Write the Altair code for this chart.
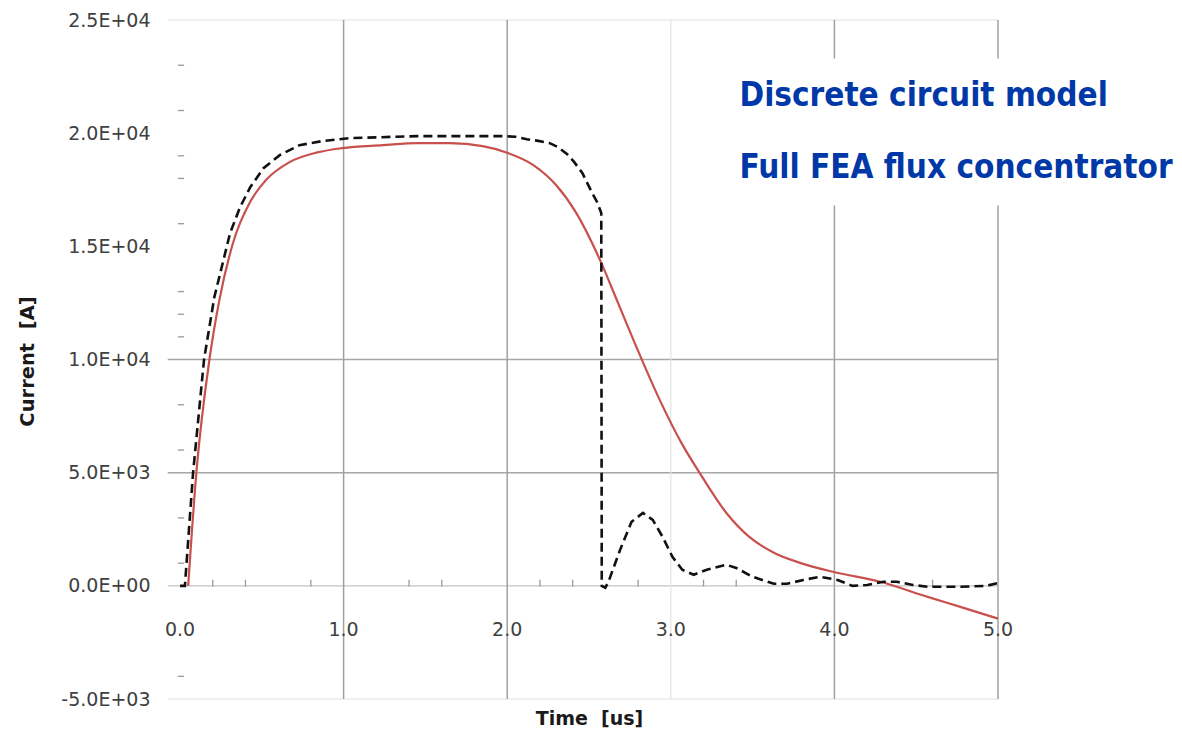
import altair as alt
import pandas as pd

# ---- data ----
dcm_t = [0.0, 0.03, 0.08, 0.147, 0.21, 0.306, 0.367, 0.43, 0.51, 0.61, 0.73, 0.87, 1.04, 1.45,
         1.98, 2.05, 2.12, 2.19, 2.26, 2.31, 2.365, 2.41, 2.46, 2.52, 2.55, 2.575, 2.578, 2.60, 2.62,
         2.69, 2.76, 2.83, 2.89, 2.95, 3.01, 3.07, 3.14, 3.22, 3.34, 3.40, 3.50, 3.63, 3.71,
         3.81, 3.91, 4.02, 4.11, 4.20, 4.30, 4.38, 4.48, 4.57, 4.77, 4.93, 5.0]
dcm_i = [0, 0, 5000, 10000, 12760, 15580, 16730, 17620, 18450, 19030, 19470, 19650, 19780, 19870,
         19870, 19840, 19730, 19660, 19560, 19380, 19080, 18720, 18230, 17350, 16950, 16470, 0, -80, 200,
         1590, 2830, 3220, 2910, 2160, 1280, 710, 490, 710, 930, 790, 400, 90, 90,
         260, 400, 260, 0, 40, 180, 180, 40, -40, -40, 0, 130]

fea_t = [0.05, 0.10, 0.18, 0.24, 0.324, 0.43, 0.53, 0.67, 0.84, 0.99, 1.24, 1.45, 1.65, 1.85,
         1.99, 2.16, 2.30, 2.42, 2.575, 2.67, 2.79, 2.93, 3.07, 3.18, 3.34, 3.48, 3.63, 3.79,
         3.99, 4.28, 4.57, 4.77, 5.0]
fea_i = [0, 5000, 10000, 12600, 15150, 16980, 17960, 18720, 19150, 19340, 19470, 19560, 19560, 19430,
         19160, 18590, 17700, 16500, 14270, 12630, 10550, 8250, 6250, 4950, 3220, 2160, 1460, 1015,
         620, 180, -490, -930, -1450]

x_ticks = [0, 1, 2, 3, 4, 5]
x_tick_labels = ["0.0", "1.0", "2.0", "3.0", "4.0", "5.0"]
y_ticks = [-5000, 0, 5000, 10000, 15000, 20000, 25000]
y_tick_labels = ["-5.0E+03", "0.0E+00", "5.0E+03", "1.0E+04", "1.5E+04", "2.0E+04", "2.5E+04"]

grid_x_dark = [1, 2, 4, 5]
grid_x_light = [3]
grid_y_dark = [5000, 10000]
grid_y_mid = [0]
grid_y_light = [-5000, 25000]
x_minor = [0.2, 0.4, 0.8, 1.4, 1.6, 2.2, 2.4, 2.8, 3.2, 3.4, 4.6]
y_minor = [-4000, 1000, 3000, 6000, 8000, 11000, 12000, 13000, 16000, 18000, 19000, 21000, 23000]

legend_labels = ["Discrete circuit model", "Full FEA flux concentrator"]
legend_y = [21650, 18450]
legend_x = 3.42

# ---- tables ----
dcm = pd.DataFrame({"t": dcm_t, "v": dcm_i, "i": range(len(dcm_t))})
fea = pd.DataFrame({"t": fea_t, "v": fea_i})

XMIN, XMAX, YMIN, YMAX = 0, 5, -5000, 25000
xs = alt.Scale(domain=[XMIN, XMAX], nice=False, zero=False)
ys = alt.Scale(domain=[YMIN, YMAX], nice=False, zero=False)

label_expr = " : ".join(f"datum.value == {v} ? '{l}'" for v, l in zip(y_ticks, y_tick_labels)) + " : ''"

X_AXIS = alt.Axis(
    labels=False, ticks=False, domain=False, grid=False,
    title="Time\u00a0 [us]", titleFont="DejaVu Sans", titleFontSize=19, titleFontWeight="bold",
    titleColor="#1a1a1a", titleY=19, titleBaseline="middle")
Y_AXIS = alt.Axis(
    values=y_ticks, labelExpr=label_expr, domain=False, ticks=False, grid=False,
    labelPadding=30, labelFont="DejaVu Sans", labelFontSize=19, labelColor="#404040",
    title="Current\u00a0 [A]", titleFont="DejaVu Sans", titleFontSize=19.5, titleFontWeight="bold",
    titleColor="#1a1a1a", titleAngle=270, titleX=-153, titleY=341, titleBaseline="middle",
    titleAlign="center")


def X(field="t"):
    return alt.X(f"{field}:Q", scale=xs, axis=X_AXIS)


def Y(field="v"):
    return alt.Y(f"{field}:Q", scale=ys, axis=Y_AXIS)


def vgrid(vals, color, width):
    df = pd.DataFrame({"t": vals, "v": [YMIN] * len(vals), "v2": [YMAX] * len(vals)})
    return alt.Chart(df).mark_rule(color=color, strokeWidth=width).encode(x=X(), y=Y(), y2="v2:Q")


def hgrid(vals, color, width):
    df = pd.DataFrame({"v": vals, "t": [-0.075] * len(vals), "t2": [XMAX] * len(vals)})
    return alt.Chart(df).mark_rule(color=color, strokeWidth=width).encode(x=X(), x2="t2:Q", y=Y())


grids = [
    hgrid(grid_y_light, "#e2e2e2", 1.2),
    hgrid(grid_y_mid, "#c4c4c4", 1.2),
    hgrid(grid_y_dark, "#a6a6a6", 1.5),
    vgrid(grid_x_light, "#e4e4e4", 1.2),
    vgrid(grid_x_dark, "#a0a0a0", 1.5),
]

xminor_df = pd.DataFrame({"t": x_minor, "v": [-30] * len(x_minor), "v2": [270] * len(x_minor)})
xminor = alt.Chart(xminor_df).mark_rule(color="#9a9a9a", strokeWidth=1.3).encode(
    x=X(), y=Y(), y2="v2:Q")

yminor_df = pd.DataFrame({"v": y_minor, "t": [-0.013] * len(y_minor), "t2": [0.025] * len(y_minor)})
yminor = alt.Chart(yminor_df).mark_rule(color="#9a9a9a", strokeWidth=1.3).encode(
    x=X(), x2="t2:Q", y=Y())

xlab_df = pd.DataFrame({"t": x_ticks, "v": [-1950] * len(x_ticks), "lab": x_tick_labels})
xlabels = alt.Chart(xlab_df).mark_text(font="DejaVu Sans", fontSize=19, color="#404040",
                                      baseline="middle", align="center").encode(
    x=X(), y=Y(), text="lab:N")

box_df = pd.DataFrame({"t": [3.3], "t2": [6.3], "v": [16800], "v2": [23300]})
box = alt.Chart(box_df).mark_rect(color="white").encode(x=X(), x2="t2:Q", y=Y(), y2="v2:Q")

fea_line = alt.Chart(fea).mark_line(color="#c8504d", strokeWidth=2.2, interpolate="monotone").encode(
    x=X(), y=Y())

dcm_line = alt.Chart(dcm).mark_line(color="#111111", strokeWidth=2.6, strokeDash=[9, 5]).encode(
    x=X(), y=Y(), order="i:Q")

leg_df = pd.DataFrame({"t": [legend_x] * 2, "v": legend_y, "lab": legend_labels})
legend = alt.Chart(leg_df).mark_text(
    font="'Liberation Sans Narrow', 'DejaVu Sans Condensed', 'Roboto Condensed', Roboto",
    fontSize=33, fontWeight="bold", color="#0038a8", align="left", baseline="middle").encode(
    x=X(), y=Y(), text="lab:N")

chart = alt.layer(*grids, xminor, yminor, box, fea_line, dcm_line, xlabels, legend).properties(
    width=818, height=679,
    autosize=alt.AutoSizeParams(type="none"),
    padding={"left": 180, "top": 20, "right": 184, "bottom": 32},
    background="white",
).configure_view(stroke=None)

chart.save("out.html", embed_options={"renderer": "svg", "actions": False})
